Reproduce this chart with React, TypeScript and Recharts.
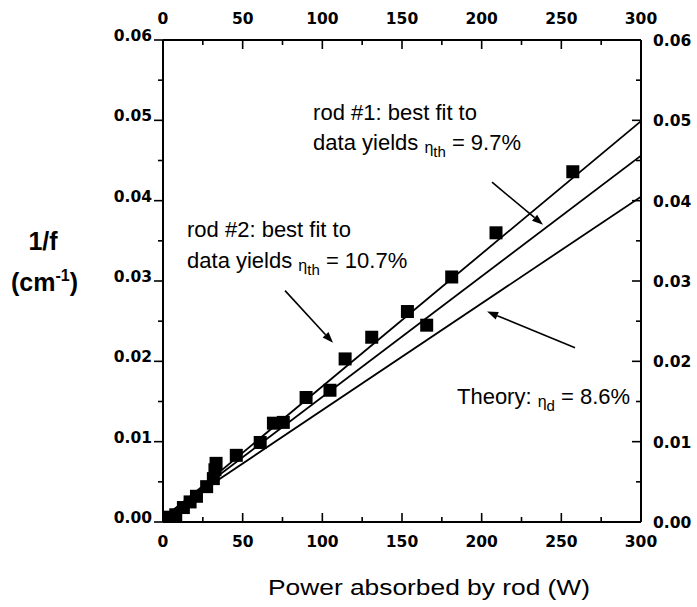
import React from "react";
import {
  ComposedChart,
  XAxis,
  YAxis,
  Line,
  Scatter,
  ReferenceLine,
  ReferenceDot,
  Label,
} from "recharts";

// ---- data ----
const powerW = [3.4, 8, 12.8, 17, 21, 27.4, 31.6, 32.6, 33.3, 46, 61, 69.3, 75.5, 89.8, 104.8, 114.3, 131, 153.4, 165.5, 181.2, 209, 257.2];
const invFocal = [0.0006, 0.0009, 0.0018, 0.0025, 0.0032, 0.0044, 0.0054, 0.0065, 0.0073, 0.0083, 0.0099, 0.0123, 0.0124, 0.0155, 0.0164, 0.0203, 0.023, 0.0262, 0.0245, 0.0305, 0.036, 0.0436];

const fitPower = [5, 300];
const rod2Fit = [0.0012, 0.0499];
const rod1Fit = [0.0013, 0.0456];
const theoryFit = [0.0013, 0.0405];

const xTicks = [0, 25, 50, 75, 100, 125, 150, 175, 200, 225, 250, 275, 300];
const yTicks = [0, 0.005, 0.01, 0.015, 0.02, 0.025, 0.03, 0.035, 0.04, 0.045, 0.05, 0.055, 0.06];

// annotation arrows: [tailX, tailY, tipX, tipY]
const rod2Arrow = [76.6, 0.0288, 106.7, 0.0223];
const rod1Arrow = [206.5, 0.0423, 238.5, 0.037];
const theoryArrow = [258.6, 0.0217, 203.4, 0.0262];

// annotation anchors [x, y]
const rod1TextPos = [94.2, 0.0501, 0.0463];
const rod2TextPos = [15.1, 0.0355, 0.0316];
const theoryTextPos = [184.5, 0.0147];

const scatterData = powerW.map((x, i) => ({ x, y: invFocal[i] }));
const mk = (ys: number[]) => fitPower.map((x, i) => ({ x, y: ys[i] }));

const FONT = "'Liberation Sans', Arial, sans-serif";
const tickFont: React.CSSProperties = {
  fontFamily: "'DejaVu Sans', sans-serif",
  fontWeight: 700,
  fontSize: 15.5,
  fill: "#000",
};

const isMajorX = (v: number) => v % 50 === 0;
const isMajorY = (v: number) => Math.abs(Math.round(v * 100) - v * 100) < 1e-6;

const BottomTick = (p: any) => {
  const { x, y, payload } = p;
  const v = payload.value;
  const m = isMajorX(v);
  return (
    <g>
      <line x1={x} y1={y} x2={x} y2={y - (m ? 9 : 5)} stroke="#000" strokeWidth={1.6} />
      {m && (
        <text x={x} y={y + 25} textAnchor="middle" style={tickFont}>
          {v}
        </text>
      )}
    </g>
  );
};

const TopTick = (p: any) => {
  const { x, y, payload } = p;
  const v = payload.value;
  const m = isMajorX(v);
  return (
    <g>
      <line x1={x} y1={y} x2={x} y2={y + (m ? 9 : 5)} stroke="#000" strokeWidth={1.6} />
      {m && (
        <text x={x} y={y - 16} textAnchor="middle" style={tickFont}>
          {v}
        </text>
      )}
    </g>
  );
};

const LeftTick = (p: any) => {
  const { x, y, payload } = p;
  const v = payload.value;
  const m = isMajorY(v);
  return (
    <g>
      <line x1={x} y1={y} x2={x - (m ? 9 : 5)} y2={y} stroke="#000" strokeWidth={1.6} />
      {m && (
        <text x={x - 11} y={y + 1} textAnchor="end" style={tickFont}>
          {v.toFixed(2)}
        </text>
      )}
    </g>
  );
};

const RightTick = (p: any) => {
  const { x, y, payload } = p;
  const v = payload.value;
  const m = isMajorY(v);
  return (
    <g>
      <line x1={x} y1={y} x2={x - (m ? 9 : 5)} y2={y} stroke="#000" strokeWidth={1.6} />
      {m && (
        <text x={x + 12} y={y + 6} textAnchor="start" style={tickFont}>
          {v.toFixed(2)}
        </text>
      )}
    </g>
  );
};

const SquareDot = (p: any) => {
  const { cx, cy } = p;
  return <rect x={cx - 6.5} y={cy - 6.5} width={13} height={13} fill="#000" />;
};

const ArrowShape = (p: any) => {
  const { x1, y1, x2, y2 } = p;
  const a = Math.atan2(y2 - y1, x2 - x1);
  const L = 11;
  const W = 4;
  const bx = x2 - L * Math.cos(a);
  const by = y2 - L * Math.sin(a);
  const px = -Math.sin(a) * W;
  const py = Math.cos(a) * W;
  return (
    <g>
      <line x1={x1} y1={y1} x2={bx} y2={by} stroke="#000" strokeWidth={1.6} />
      <polygon points={`${x2},${y2} ${bx + px},${by + py} ${bx - px},${by - py}`} fill="#000" />
    </g>
  );
};

const annStyle: React.CSSProperties = { fontFamily: FONT, fontSize: 22, fill: "#000" };

const plainText = (txt: string) => (p: any) => (
  <text x={p.cx} y={p.cy} style={annStyle}>
    {txt}
  </text>
);

const etaText = (pre: string, sub: string, post: string) => (p: any) => (
  <text x={p.cx} y={p.cy} style={annStyle}>
    {pre}
    <tspan fontSize={16} dy={3}>η</tspan>
    <tspan fontSize={15} dy={4}>{sub}</tspan>
    <tspan fontSize={22} dy={-7}>{post}</tspan>
  </text>
);

const XTitle = (p: any) => {
  const vb = p.viewBox;
  return (
    <text
      x={vb.x + 105}
      y={vb.y + 73}
      textLength={322}
      lengthAdjust="spacingAndGlyphs"
      style={{ fontFamily: FONT, fontSize: 22, fill: "#000" }}
    >
      Power absorbed by rod (W)
    </text>
  );
};

const YTitle = (p: any) => {
  const vb = p.viewBox;
  const x0 = vb.x + vb.width;
  const st: React.CSSProperties = { fontFamily: FONT, fontSize: 25, fontWeight: 700, fill: "#000" };
  return (
    <g>
      <text x={x0 - 120} y={vb.y + 210} textAnchor="middle" style={st}>
        1/f
      </text>
      <text x={x0 - 152} y={vb.y + 251} style={st}>
        (cm
        <tspan fontSize={16} dy={-10}>-1</tspan>
        <tspan dy={10}>)</tspan>
      </text>
    </g>
  );
};

export default function App() {
  return (
    <div style={{ position: "absolute", left: 0, top: 0, width: 697, height: 607, background: "#fff" }}>
      <ComposedChart width={697} height={607} margin={{ top: 10, right: 16, bottom: 55, left: 123 }}>
        <XAxis
          xAxisId="b"
          type="number"
          dataKey="x"
          domain={[0, 300]}
          ticks={xTicks}
          interval={0}
          height={30}
          tickSize={0}
          tickMargin={0}
          tick={<BottomTick />}
          axisLine={{ stroke: "#000", strokeWidth: 2 }}
          allowDataOverflow
        >
          <Label content={<XTitle />} />
        </XAxis>
        <XAxis
          xAxisId="t"
          orientation="top"
          type="number"
          dataKey="x"
          domain={[0, 300]}
          ticks={xTicks}
          interval={0}
          height={30}
          tickSize={0}
          tickMargin={0}
          tick={<TopTick />}
          axisLine={{ stroke: "#000", strokeWidth: 2 }}
          allowDataOverflow
        />
        <YAxis
          yAxisId="l"
          type="number"
          dataKey="y"
          domain={[0, 0.06]}
          ticks={yTicks}
          interval={0}
          width={40}
          tickSize={0}
          tickMargin={0}
          tick={<LeftTick />}
          axisLine={{ stroke: "#000", strokeWidth: 2 }}
          allowDataOverflow
        >
          <Label content={<YTitle />} />
        </YAxis>
        <YAxis
          yAxisId="r"
          orientation="right"
          type="number"
          dataKey="y"
          domain={[0, 0.06]}
          ticks={yTicks}
          interval={0}
          width={40}
          tickSize={0}
          tickMargin={0}
          tick={<RightTick />}
          axisLine={{ stroke: "#000", strokeWidth: 2 }}
          allowDataOverflow
        />

        <Line xAxisId="b" yAxisId="l" data={mk(rod2Fit)} dataKey="y" stroke="#000" strokeWidth={1.8} dot={false} isAnimationActive={false} />
        <Line xAxisId="b" yAxisId="l" data={mk(rod1Fit)} dataKey="y" stroke="#000" strokeWidth={1.8} dot={false} isAnimationActive={false} />
        <Line xAxisId="t" yAxisId="r" data={mk(theoryFit)} dataKey="y" stroke="#000" strokeWidth={1.8} dot={false} isAnimationActive={false} />
        <Scatter xAxisId="b" yAxisId="l" data={scatterData} dataKey="y" shape={<SquareDot />} isAnimationActive={false} />

        <ReferenceLine xAxisId="b" yAxisId="l" segment={[{ x: rod2Arrow[0], y: rod2Arrow[1] }, { x: rod2Arrow[2], y: rod2Arrow[3] }]} shape={<ArrowShape />} ifOverflow="visible" />
        <ReferenceLine xAxisId="b" yAxisId="l" segment={[{ x: rod1Arrow[0], y: rod1Arrow[1] }, { x: rod1Arrow[2], y: rod1Arrow[3] }]} shape={<ArrowShape />} ifOverflow="visible" />
        <ReferenceLine xAxisId="b" yAxisId="l" segment={[{ x: theoryArrow[0], y: theoryArrow[1] }, { x: theoryArrow[2], y: theoryArrow[3] }]} shape={<ArrowShape />} ifOverflow="visible" />

        <ReferenceDot xAxisId="b" yAxisId="l" x={rod1TextPos[0]} y={rod1TextPos[1]} r={1} shape={plainText("rod #1: best fit to")} ifOverflow="visible" />
        <ReferenceDot xAxisId="b" yAxisId="l" x={rod1TextPos[0]} y={rod1TextPos[2]} r={1} shape={etaText("data yields ", "th", " = 9.7%")} ifOverflow="visible" />
        <ReferenceDot xAxisId="b" yAxisId="l" x={rod2TextPos[0]} y={rod2TextPos[1]} r={1} shape={plainText("rod #2: best fit to")} ifOverflow="visible" />
        <ReferenceDot xAxisId="b" yAxisId="l" x={rod2TextPos[0]} y={rod2TextPos[2]} r={1} shape={etaText("data yields ", "th", " = 10.7%")} ifOverflow="visible" />
        <ReferenceDot xAxisId="b" yAxisId="l" x={theoryTextPos[0]} y={theoryTextPos[1]} r={1} shape={etaText("Theory: ", "d", " = 8.6%")} ifOverflow="visible" />
      </ComposedChart>
    </div>
  );
}
